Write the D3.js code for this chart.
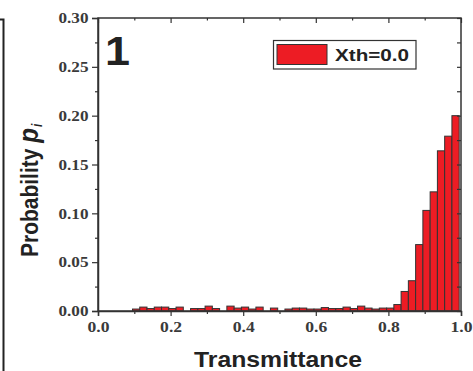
<!DOCTYPE html>
<html>
<head>
<meta charset="utf-8">
<title>Transmittance histogram</title>
<script src="https://cdnjs.cloudflare.com/ajax/libs/d3/7.8.5/d3.min.js"></script>
<style>
body { margin: 0; background: #fff; }
svg { display: block; }
.tick-label { font-family: "Liberation Serif", "Times New Roman", serif; font-weight: bold; font-size: 15px; fill: #3a3a3a; }
.title { font-family: "Liberation Sans", Arial, sans-serif; font-weight: bold; fill: #222; }
</style>
</head>
<body>
<svg id="chart" width="473" height="371"></svg>
<script>
// bin centres (width 0.02) and probability per bin
var binCenters = [0.105, 0.125, 0.145, 0.165, 0.185, 0.205, 0.225, 0.245, 0.265, 0.285,
                  0.305, 0.325, 0.345, 0.365, 0.385, 0.405, 0.425, 0.445, 0.465, 0.485,
                  0.505, 0.525, 0.545, 0.565, 0.585, 0.605, 0.625, 0.645, 0.665, 0.685,
                  0.705, 0.725, 0.745, 0.765, 0.785, 0.805, 0.825, 0.845, 0.865, 0.885,
                  0.905, 0.925, 0.945, 0.965, 0.985];
var probs = [0.002, 0.004, 0.0025, 0.004, 0.004, 0.0025, 0.004, 0, 0.0025, 0.0025,
             0.005, 0.0025, 0, 0.005, 0.003, 0.004, 0.002, 0.004, 0, 0.003,
             0, 0.002, 0.003, 0.003, 0.002, 0.002, 0.0035, 0.0025, 0.0025, 0.004,
             0.0025, 0.005, 0.003, 0.002, 0.003, 0.003, 0.0066, 0.020, 0.031, 0.068,
             0.103, 0.122, 0.164, 0.179, 0.200];
var binWidth = 0.02;
var xTicks = [0, 0.2, 0.4, 0.6, 0.8, 1.0];
var xMinor = [0.1, 0.3, 0.5, 0.7, 0.9];
var yTicks = [0, 0.05, 0.10, 0.15, 0.20, 0.25, 0.30];
var yMinor = [0.025, 0.075, 0.125, 0.175, 0.225, 0.275];
var legendLabel = "Xth=0.0";
var panelLabel = "1";

var svg = d3.select("#chart");
var plotLeft = 98, plotRight = 461, plotTop = 18, plotBottom = 311;
var axisColor = "#333";

var x = d3.scaleLinear().domain([0, 1]).range([plotLeft, plotRight]);
var y = d3.scaleLinear().domain([0, 0.3]).range([plotBottom, plotTop]);

// frame edge of the neighbouring panel
svg.append("path")
    .attr("d", "M0,19.5H3.5V371")
    .attr("fill", "none")
    .attr("stroke", "#222")
    .attr("stroke-width", 2);

// bars
svg.append("g").selectAll("rect")
    .data(probs)
    .enter().append("rect")
    .attr("x", function(d, i) { return x(binCenters[i] - binWidth / 2); })
    .attr("width", function(d, i) { return x(binCenters[i] + binWidth / 2) - x(binCenters[i] - binWidth / 2); })
    .attr("y", function(d) { return y(d); })
    .attr("height", function(d) { return plotBottom - y(d); })
    .attr("fill", "#ED1C24")
    .attr("stroke", "#333")
    .attr("stroke-width", 1);

// axes
var fmtX = d3.format(".1f"), fmtY = d3.format(".2f");

var xb = svg.append("g").attr("transform", "translate(0," + plotBottom + ")")
    .call(d3.axisBottom(x).tickValues(xTicks).tickSize(5).tickFormat(fmtX));
var xbm = svg.append("g").attr("transform", "translate(0," + plotBottom + ")")
    .call(d3.axisBottom(x).tickValues(xMinor).tickSize(3).tickFormat(""));
var xt = svg.append("g").attr("transform", "translate(0," + plotTop + ")")
    .call(d3.axisTop(x).tickValues(xTicks).tickSize(-5).tickFormat(""));
var xtm = svg.append("g").attr("transform", "translate(0," + plotTop + ")")
    .call(d3.axisTop(x).tickValues(xMinor).tickSize(-2.5).tickFormat(""));
var yl = svg.append("g").attr("transform", "translate(" + plotLeft + ",0)")
    .call(d3.axisLeft(y).tickValues(yTicks).tickSize(6).tickFormat(fmtY));
var ylm = svg.append("g").attr("transform", "translate(" + plotLeft + ",0)")
    .call(d3.axisLeft(y).tickValues(yMinor).tickSize(3).tickFormat(""));
var yr = svg.append("g").attr("transform", "translate(" + plotRight + ",0)")
    .call(d3.axisRight(y).tickValues(yTicks.concat(yMinor)).tickSize(-4).tickFormat(""));

[xb, xbm, xt, xtm, yl, ylm, yr].forEach(function(g) {
  g.select(".domain").attr("stroke", axisColor).attr("stroke-width", 1.5);
  g.selectAll(".tick line").attr("stroke", axisColor).attr("stroke-width", 1.2);
});
[xbm, xt, xtm, ylm, yr].forEach(function(g) { g.select(".domain").remove(); });

svg.append("rect")
    .attr("x", plotLeft).attr("y", plotTop)
    .attr("width", plotRight - plotLeft).attr("height", plotBottom - plotTop)
    .attr("fill", "none").attr("stroke", axisColor).attr("stroke-width", 1.5);

xb.selectAll(".tick text")
    .attr("class", "tick-label")
    .attr("y", 10).attr("dy", "0.71em")
    .attr("textLength", 22).attr("lengthAdjust", "spacingAndGlyphs");
yl.selectAll(".tick text")
    .attr("class", "tick-label")
    .attr("x", -9.5)
    .attr("textLength", 30).attr("lengthAdjust", "spacingAndGlyphs");

// axis titles
svg.append("text").attr("class", "title")
    .attr("x", 194).attr("y", 367)
    .attr("font-size", 22)
    .attr("textLength", 168).attr("lengthAdjust", "spacingAndGlyphs")
    .text("Transmittance");

var yt = svg.append("text").attr("class", "title")
    .attr("transform", "translate(37.5,257) rotate(-90) scale(1,1.15)")
    .attr("font-size", 21);
yt.append("tspan").text("Probability ");
yt.append("tspan").attr("font-style", "italic").attr("font-size", 24).text("p");
yt.append("tspan").attr("font-style", "italic").attr("font-size", 12).attr("dx", 1).attr("dy", 4).text("i");

// panel number
svg.append("text").attr("class", "title")
    .attr("x", 105).attr("y", 64.5)
    .attr("font-size", 41)
    .attr("textLength", 25).attr("lengthAdjust", "spacingAndGlyphs")
    .text(panelLabel);

// legend
var lg = svg.append("g");
lg.append("rect")
    .attr("x", 273.5).attr("y", 40.5).attr("width", 142.5).attr("height", 28.5)
    .attr("fill", "#fff").attr("stroke", axisColor).attr("stroke-width", 1.2);
lg.append("rect")
    .attr("x", 277).attr("y", 44.5).attr("width", 50).attr("height", 20)
    .attr("fill", "#ED1C24").attr("stroke", axisColor).attr("stroke-width", 1);
lg.append("text").attr("class", "title")
    .attr("x", 335).attr("y", 61)
    .attr("font-size", 16.5)
    .attr("textLength", 74).attr("lengthAdjust", "spacingAndGlyphs")
    .text(legendLabel);
</script>
</body>
</html>
